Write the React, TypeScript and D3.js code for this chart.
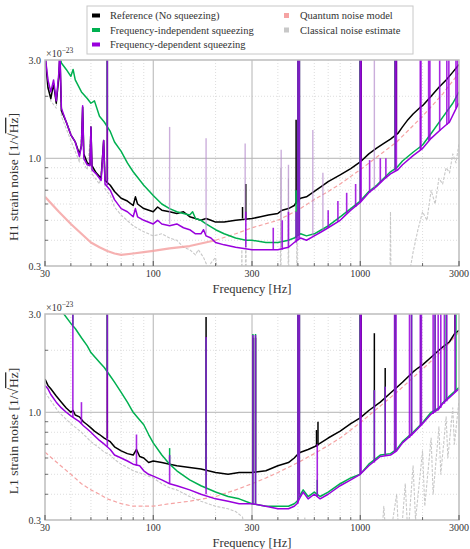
import React from 'react';
import * as d3 from 'd3';

type P = [number, number];
type S = [number, number, number]; // [frequency, base, peak]

// ---------- H1 (top panel) ----------
const H1_REF: P[] = [
  [30, 3.2], [31, 2.2], [32, 1.95], [33, 2.3], [34, 1.85], [35, 2.5], [35.4, 3.2], [36, 1.7], [38, 1.5], [40, 1.3],
  [42, 1.2], [44, 1.05], [45, 1.15], [45.6, 1.77], [46.2, 1.05], [48, 0.95], [49.5, 0.93], [50, 1.42], [50.6, 0.92],
  [53, 0.85], [56, 0.8], [57.6, 1.22], [58.5, 0.78], [62, 0.74], [65, 0.69], [70, 0.64], [75, 0.62], [80, 0.59],
  [82, 0.65], [84, 0.6], [90, 0.57], [100, 0.55], [105, 0.58], [110, 0.56], [120, 0.55], [130, 0.54], [140, 0.55],
  [150, 0.52], [160, 0.51], [170, 0.5], [180, 0.51], [190, 0.5], [200, 0.49], [220, 0.49], [250, 0.5], [300, 0.51],
  [330, 0.52], [360, 0.53], [400, 0.54], [420, 0.56], [450, 0.57], [480, 0.59], [495, 0.62], [515, 0.64], [550, 0.65],
  [600, 0.69], [650, 0.73], [700, 0.77], [800, 0.83], [900, 0.89], [1000, 0.96], [1100, 1.05], [1200, 1.12],
  [1300, 1.18], [1400, 1.24], [1520, 1.32], [1600, 1.42], [1700, 1.54], [1800, 1.64], [1940, 1.76], [2000, 1.8],
  [2200, 2.0], [2400, 2.21], [2600, 2.4], [2800, 2.62], [3000, 2.85],
];
const H1_REF_LINES: S[] = [
  [60, 0.77, 3.5], [270, 0.51, 0.58], [280, 0.51, 0.75], [490, 0.6, 1.54], [500, 0.61, 4], [508, 0.63, 4],
  [1000, 0.96, 4], [1010, 0.97, 4], [1475, 1.29, 4], [1495, 1.31, 4],
];
const H1_FIS: P[] = [
  [35, 3.3], [36, 2.9], [38, 2.7], [40, 2.5], [41, 2.7], [42, 2.4], [45, 2.1], [48, 1.95], [50, 1.85], [52, 1.9],
  [55, 1.6], [58, 1.5], [62, 1.35], [65, 1.2], [70, 1.08], [75, 0.95], [80, 0.86], [90, 0.74], [100, 0.66],
  [110, 0.6], [120, 0.57], [130, 0.55], [140, 0.54], [150, 0.53], [155, 0.55], [160, 0.51], [170, 0.5], [180, 0.48],
  [200, 0.45], [220, 0.43], [250, 0.41], [280, 0.4], [300, 0.4], [350, 0.39], [400, 0.39], [450, 0.4], [480, 0.41],
  [495, 0.42], [515, 0.43], [550, 0.42], [600, 0.43], [650, 0.45], [700, 0.47], [800, 0.52], [900, 0.57], [1000, 0.62],
  [1100, 0.69], [1200, 0.74], [1300, 0.8], [1400, 0.86], [1500, 0.9], [1600, 0.97], [1800, 1.07], [2000, 1.16],
  [2200, 1.32], [2500, 1.58], [2800, 1.85], [3000, 2.1],
];
const H1_FIS_LINES: S[] = [
  [60, 1.45, 3.5], [490, 0.41, 0.7], [500, 0.42, 4], [508, 0.43, 4], [1000, 0.62, 4], [1475, 0.89, 4],
];
const H1_FDS: P[] = [
  [30, 3.2], [31, 2.4], [32, 2.1], [33, 2.4], [34, 1.9], [35, 2.6], [35.4, 3.5], [36, 1.75], [38, 1.5], [40, 1.3],
  [42, 1.2], [44, 1.02], [45, 1.15], [45.6, 1.8], [46.2, 1.0], [48, 0.93], [49.5, 0.92], [50, 1.42], [50.6, 0.88],
  [53, 0.84], [56, 0.78], [57.6, 1.22], [58.5, 0.75], [62, 0.7], [65, 0.63], [70, 0.57], [75, 0.55], [80, 0.52],
  [82, 0.57], [84, 0.52], [90, 0.5], [100, 0.48], [105, 0.5], [110, 0.48], [120, 0.47], [130, 0.48], [140, 0.46],
  [150, 0.45], [160, 0.43], [170, 0.43], [175, 0.45], [180, 0.42], [190, 0.41], [200, 0.39], [220, 0.38], [250, 0.37],
  [300, 0.36], [350, 0.36], [400, 0.36], [450, 0.37], [480, 0.39], [495, 0.4], [515, 0.41], [550, 0.4], [600, 0.42],
  [650, 0.44], [700, 0.46], [800, 0.5], [900, 0.56], [1000, 0.61], [1100, 0.68], [1200, 0.73], [1300, 0.79],
  [1400, 0.84], [1520, 0.88], [1600, 0.93], [1800, 1.03], [1990, 1.11], [2200, 1.25], [2450, 1.38], [2700, 1.5],
  [2950, 1.8], [3000, 1.85],
];
const H1_FDS_LINES: S[] = [
  [60, 0.74, 3.5], [280, 0.37, 0.55], [380, 0.36, 0.46], [420, 0.36, 0.5], [450, 0.37, 0.55], [490, 0.39, 0.55],
  [500, 0.4, 4], [508, 0.41, 4], [700, 0.46, 0.56], [780, 0.49, 0.62], [860, 0.54, 0.68], [950, 0.58, 0.75],
  [1000, 0.61, 4], [1010, 0.62, 4], [1110, 0.68, 0.98], [1250, 0.76, 1.0], [1330, 0.8, 1.0], [1475, 0.87, 4],
  [1495, 0.88, 4], [1950, 1.1, 4], [1965, 1.1, 4], [2140, 1.22, 4], [2170, 1.24, 4], [2420, 1.36, 4],
  [2620, 1.45, 4], [2680, 1.48, 4], [2900, 1.75, 4], [2950, 1.8, 4],
];
const H1_CLASSICAL: P[] = [
  [30, 3.2], [32, 1.9], [34, 1.75], [35.4, 3.0], [36, 1.6], [40, 1.22], [44, 0.96], [45.6, 1.6], [46.2, 0.94],
  [48, 0.88], [50, 1.32], [50.6, 0.84], [55, 0.75], [57.6, 1.1], [58.5, 0.71], [62, 0.66], [65, 0.58],
  [70, 0.53], [80, 0.47], [90, 0.44], [100, 0.42], [110, 0.43], [120, 0.41], [130, 0.4], [140, 0.37], [150, 0.36],
  [160, 0.34], [165, 0.36], [175, 0.33], [185, 0.29], [190, 0.31], [200, 0.33], [205, 0.28], [215, 0.2], [266, 0.2],
  [268, 0.36], [270, 0.2], [278, 0.2], [280, 0.5], [282, 0.2], [411, 0.2], [413, 0.9], [415, 0.2], [448, 0.2],
  [450, 0.8], [452, 0.2], [493, 0.2], [495, 1.1], [497, 0.2], [1390, 0.2], [1400, 0.55], [1410, 0.2],
  [1700, 0.25], [1800, 0.35], [1900, 0.45], [2000, 0.55], [2100, 0.5], [2200, 0.7], [2300, 0.6],
  [2400, 0.8], [2500, 0.75], [2600, 0.9], [2700, 0.85], [2800, 1.05], [2900, 0.95], [3000, 1.18],
];
const H1_QUANTUM: P[] = [
  [30, 0.65], [35, 0.55], [40, 0.48], [45, 0.43], [50, 0.39], [55, 0.37], [60, 0.355], [65, 0.345], [70, 0.34],
  [80, 0.345], [90, 0.35], [100, 0.355], [120, 0.365], [150, 0.375], [200, 0.4], [250, 0.43], [300, 0.46], [400, 0.5],
  [500, 0.56], [600, 0.63], [700, 0.69], [800, 0.75], [1000, 0.88], [1500, 1.2], [2000, 1.6], [2500, 2.05], [3000, 2.6],
];
const H1_FAINT_LINES: S[] = [
  [120, 0.48, 1.42], [180, 0.43, 1.25], [278, 0.5, 1.18], [415, 0.37, 1.1], [450, 0.4, 0.93], [590, 0.42, 1.37],
  [660, 0.45, 0.85], [1170, 0.7, 3.2],
];

// ---------- L1 (bottom panel) ----------
const L1_REF: P[] = [
  [30, 1.45], [31, 1.35], [32, 1.3], [34, 1.2], [36, 1.12], [38, 1.05], [40, 1.0], [41, 1.02], [42, 0.97], [44, 0.95],
  [46, 0.9], [48, 0.87], [50, 0.84], [52, 0.81], [55, 0.78], [58, 0.75], [62, 0.72], [65, 0.68], [70, 0.65],
  [75, 0.63], [80, 0.62], [83, 0.66], [86, 0.61], [90, 0.6], [95, 0.57], [100, 0.58], [110, 0.57], [120, 0.56],
  [130, 0.55], [150, 0.54], [170, 0.53], [200, 0.51], [230, 0.5], [260, 0.51], [300, 0.51], [350, 0.52], [400, 0.55],
  [450, 0.57], [480, 0.6], [495, 0.62], [515, 0.64], [560, 0.66], [600, 0.68], [700, 0.75], [800, 0.81], [900, 0.88],
  [1000, 0.94], [1100, 1.02], [1250, 1.12], [1400, 1.24], [1500, 1.32], [1600, 1.4], [1800, 1.57], [1900, 1.64],
  [2000, 1.7], [2200, 1.85], [2400, 2.0], [2500, 2.07], [2700, 2.2], [2850, 2.4], [3000, 2.5],
];
const L1_REF_LINES: S[] = [
  [60, 0.75, 3.5], [180, 0.52, 2.9], [303, 0.51, 2.3], [312, 0.51, 2.3], [500, 0.62, 4], [508, 0.64, 4],
  [615, 0.68, 0.82], [625, 0.69, 0.9], [1000, 0.94, 4], [1010, 0.95, 4], [1170, 1.05, 2.42], [1320, 1.16, 1.64],
  [1475, 1.3, 4], [2870, 2.4, 3.2],
];
const L1_FIS: P[] = [
  [36, 3.2], [37, 3.0], [40, 2.7], [42, 2.55], [45, 2.3], [48, 2.1], [50, 1.95], [55, 1.75], [58, 1.65], [62, 1.5],
  [65, 1.4], [70, 1.25], [75, 1.12], [80, 1.0], [85, 0.93], [90, 0.87], [95, 0.78], [100, 0.71], [110, 0.62],
  [120, 0.56], [130, 0.52], [150, 0.47], [170, 0.44], [200, 0.41], [230, 0.39], [260, 0.38], [300, 0.36], [350, 0.35],
  [400, 0.35], [450, 0.35], [480, 0.36], [495, 0.37], [515, 0.4], [530, 0.42], [560, 0.39], [600, 0.41], [640, 0.39],
  [700, 0.41], [800, 0.45], [900, 0.48], [1000, 0.5], [1100, 0.56], [1250, 0.62], [1400, 0.63], [1500, 0.66],
  [1600, 0.72], [1800, 0.8], [2000, 0.89], [2200, 1.0], [2400, 1.05], [2500, 1.11], [2700, 1.2], [3000, 1.32],
];
const L1_FIS_LINES: S[] = [
  [40.9, 2.65, 3.5], [60, 1.6, 3.5], [120, 0.56, 0.67], [180, 0.43, 2.3], [303, 0.36, 2.4], [312, 0.36, 2.4],
  [500, 0.37, 4], [508, 0.4, 4], [620, 0.39, 0.47], [1000, 0.5, 4], [1170, 0.58, 1.28], [1320, 0.63, 1.33],
  [1475, 0.65, 4], [1770, 0.78, 4], [1960, 0.87, 4], [2300, 1.02, 4], [2600, 1.15, 4], [2900, 1.28, 4],
];
const L1_FDS: P[] = [
  [30, 1.35], [31, 1.3], [32, 1.22], [34, 1.12], [36, 1.05], [38, 1.0], [40, 0.96], [42, 0.93], [44, 0.9], [46, 0.86],
  [48, 0.83], [50, 0.8], [52, 0.77], [55, 0.73], [58, 0.7], [62, 0.66], [65, 0.62], [70, 0.6], [75, 0.58], [80, 0.56],
  [86, 0.55], [90, 0.52], [95, 0.5], [100, 0.49], [110, 0.47], [120, 0.45], [130, 0.44], [150, 0.42], [170, 0.4],
  [200, 0.38], [230, 0.37], [260, 0.36], [300, 0.36], [350, 0.35], [400, 0.34], [450, 0.34], [480, 0.35], [495, 0.36],
  [515, 0.39], [530, 0.41], [560, 0.38], [600, 0.4], [640, 0.38], [700, 0.4], [800, 0.44], [900, 0.47], [1000, 0.5],
  [1100, 0.55], [1250, 0.61], [1400, 0.62], [1500, 0.65], [1600, 0.71], [1800, 0.79], [2000, 0.88], [2200, 0.98],
  [2400, 1.04], [2500, 1.1], [2700, 1.18], [3000, 1.3],
];
const L1_FDS_LINES: S[] = [
  [40.9, 0.95, 3.5], [45, 0.88, 1.12], [60, 0.68, 3.5], [83, 0.55, 0.78], [120, 0.45, 0.62], [180, 0.4, 2.32],
  [303, 0.36, 2.37], [312, 0.36, 2.37], [500, 0.36, 4], [508, 0.39, 4], [620, 0.39, 0.7], [1000, 0.5, 4],
  [1010, 0.51, 4], [1170, 0.57, 1.28], [1320, 0.62, 1.33], [1465, 0.64, 4], [1490, 0.65, 4], [1730, 0.75, 4],
  [1770, 0.77, 4], [1950, 0.86, 4], [1975, 0.87, 4], [2250, 0.98, 4], [2300, 1.0, 4], [2380, 1.02, 4],
  [2450, 1.05, 4], [2550, 1.1, 4], [2620, 1.13, 4], [2870, 1.25, 4],
];
const L1_CLASSICAL: P[] = [
  [30, 1.25], [35, 1.0], [40, 0.88], [45, 0.8], [50, 0.72], [55, 0.67], [58, 0.64], [62, 0.62], [65, 0.59],
  [70, 0.56], [75, 0.54], [80, 0.52], [90, 0.5], [100, 0.48], [110, 0.45], [120, 0.43], [130, 0.42], [150, 0.39],
  [170, 0.37], [200, 0.35], [230, 0.34], [250, 0.33], [270, 0.31], [290, 0.2], [530, 0.2], [540, 0.31], [550, 0.2],
  [1150, 0.2], [1200, 0.3], [1250, 0.2], [1300, 0.35], [1350, 0.2], [1500, 0.4], [1550, 0.2], [1650, 0.45],
  [1700, 0.25], [1800, 0.55], [1850, 0.3], [2000, 0.65], [2050, 0.35], [2200, 0.75], [2250, 0.4], [2400, 0.85],
  [2450, 0.5], [2600, 0.95], [2650, 0.6], [2800, 1.05], [2850, 0.7], [3000, 1.14],
];
const L1_QUANTUM: P[] = [
  [30, 0.64], [35, 0.56], [40, 0.5], [45, 0.45], [50, 0.42], [55, 0.4], [60, 0.38], [70, 0.36], [80, 0.35], [90, 0.35],
  [100, 0.35], [120, 0.36], [150, 0.37], [200, 0.39], [250, 0.42], [300, 0.45], [350, 0.48], [400, 0.51], [500, 0.57],
  [600, 0.63], [700, 0.69], [800, 0.75], [1000, 0.89], [1500, 1.25], [2000, 1.62], [2500, 2.0], [3000, 2.45],
];
const L1_FAINT_LINES: S[] = [];

// ---------- axes ----------
const X_TICKS = [30, 100, 300, 1000, 3000];
const X_TICK_LABELS = ['30', '100', '300', '1000', '3000'];
const X_MAJOR_GRID = [100, 300, 1000];
const X_MINOR = [40, 50, 60, 70, 80, 90, 200, 400, 500, 600, 700, 800, 900, 2000];
const Y_TICKS = [0.3, 1.0, 3.0];
const Y_TICK_LABELS = ['0.3', '1.0', '3.0'];
const Y_MAJOR_GRID = [1.0];
const Y_MINOR = [0.4, 0.5, 0.6, 0.7, 0.8, 0.9, 2.0];

const LEGEND_LEFT = ['Reference (No squeezing)', 'Frequency-independent squeezing', 'Frequency-dependent squeezing'];
const LEGEND_RIGHT = ['Quantum noise model', 'Classical noise estimate'];

const C_BLACK = '#000000';
const C_GREEN = '#00b050';
const C_PURPLE = '#9900dd';
const C_PINK = '#f5a3a3';
const C_GRAY = '#c8c8c8';
const C_TEXT = '#333';
const FONT = "'Liberation Serif', 'Times New Roman', serif";

const L = 45, R = 459, PH = 206;

interface PanelProps {
  id: string; top: number; det: string;
  gray: P[]; pink: P[]; pinkSolid: boolean;
  black: P[]; blackLines: S[]; green: P[]; greenLines: S[]; purple: P[]; purpleLines: S[]; faint: S[];
}

function Panel(p: PanelProps) {
  const { id, top, det } = p;
  const x = d3.scaleLog().domain([30, 3000]).range([L, R]);
  const y = d3.scaleLog().domain([0.3, 3.0]).range([top + PH, top]);
  const line = d3.line<P>().x(d => x(d[0])).y(d => y(d[1]));
  const bottom = top + PH;
  const pinkA = p.pinkSolid ? p.pink.filter(d => d[0] <= 220) : [];
  const pinkB = p.pinkSolid ? p.pink.filter(d => d[0] >= 200) : p.pink;
  const spikes = (arr: S[], color: string, key: string, w = 1.5, op = 1) =>
    arr.map((s, i) => (
      <line key={key + i} x1={x(s[0])} x2={x(s[0])} y1={y(s[1])} y2={y(s[2])} stroke={color} strokeWidth={w} opacity={op} />
    ));
  const txt = { fontFamily: FONT, fill: C_TEXT };
  return (
    <g>
      <defs>
        <clipPath id={id}>
          <rect x={L} y={top} width={R - L} height={PH} />
        </clipPath>
      </defs>
      {X_MINOR.map(f => (
        <line key={'xm' + f} x1={x(f)} x2={x(f)} y1={top} y2={bottom} stroke="#d4d4d4" strokeWidth={0.8} strokeDasharray="1,2" />
      ))}
      {Y_MINOR.map(v => (
        <line key={'ym' + v} x1={L} x2={R} y1={y(v)} y2={y(v)} stroke="#d4d4d4" strokeWidth={0.8} strokeDasharray="1,2" />
      ))}
      {X_MAJOR_GRID.map(f => (
        <line key={'xg' + f} x1={x(f)} x2={x(f)} y1={top} y2={bottom} stroke="#b4b4b4" strokeWidth={1} />
      ))}
      {Y_MAJOR_GRID.map(v => (
        <line key={'yg' + v} x1={L} x2={R} y1={y(v)} y2={y(v)} stroke="#b4b4b4" strokeWidth={1} />
      ))}
      <g clipPath={`url(#${id})`} fill="none" strokeLinejoin="round">
        <path d={line(p.gray) || ''} stroke={C_GRAY} strokeWidth={1.1} strokeDasharray="3,1.5" />
        {pinkA.length > 0 && <path d={line(pinkA) || ''} stroke={C_PINK} strokeWidth={2.2} opacity={0.85} />}
        <path d={line(pinkB) || ''} stroke={C_PINK} strokeWidth={1.2} strokeDasharray="4,2.5" />
        <path d={line(p.black) || ''} stroke={C_BLACK} strokeWidth={1.5} />
        {spikes(p.blackLines, C_BLACK, 'bl')}
        <path d={line(p.green) || ''} stroke={C_GREEN} strokeWidth={1.5} />
        {spikes(p.greenLines, C_GREEN, 'gl')}
        {spikes(p.faint, '#b58ccc', 'fl', 1.4, 0.7)}
        <path d={line(p.purple) || ''} stroke={C_PURPLE} strokeWidth={1.5} />
        {spikes(p.purpleLines, C_PURPLE, 'pl', 1.6, 0.85)}
      </g>
      <rect x={L} y={top} width={R - L} height={PH} fill="none" stroke="#bdbdbd" strokeWidth={1.5} />
      {X_MINOR.map(f => (
        <line key={'xt' + f} x1={x(f)} x2={x(f)} y1={bottom} y2={bottom - 3} stroke="#333" strokeWidth={0.7} />
      ))}
      {X_TICKS.map(f => (
        <line key={'xT' + f} x1={x(f)} x2={x(f)} y1={bottom} y2={bottom - 5} stroke="#333" strokeWidth={0.8} />
      ))}
      {Y_MINOR.map(v => (
        <line key={'yt' + v} x1={L} x2={L + 3} y1={y(v)} y2={y(v)} stroke="#333" strokeWidth={0.7} />
      ))}
      {X_TICKS.map((f, i) => (
        <text key={'xl' + f} x={x(f)} y={bottom + 11} textAnchor="middle" fontSize={10} {...txt}>
          {X_TICK_LABELS[i]}
        </text>
      ))}
      {Y_TICKS.map((v, i) => (
        <text key={'yl' + v} x={L - 4} y={y(v) + 3.5} textAnchor="end" fontSize={10} {...txt}>
          {Y_TICK_LABELS[i]}
        </text>
      ))}
      <text x={L + 1} y={top - 3} fontSize={10} {...txt}>
        ×10<tspan fontSize={7.5} dy={-4.5}>−23</tspan>
      </text>
      <text x={(L + R) / 2} y={bottom + 27} textAnchor="middle" fontSize={12.5} {...txt}>
        Frequency [Hz]
      </text>
      <text transform={`translate(18,${top + PH / 2 + 14}) rotate(-90)`} textAnchor="middle" fontSize={13.5} {...txt}>
        {det} strain noise [1/√<tspan style={{ textDecoration: 'overline' }}>Hz</tspan>]
      </text>
    </g>
  );
}

function Legend() {
  const colorsL = [C_BLACK, C_GREEN, C_PURPLE];
  const colorsR = [C_PINK, C_GRAY];
  const rows = [15.5, 30, 44.5];
  return (
    <g>
      <rect x={87} y={6} width={326} height={48} fill="#fff" stroke="#c8c8c8" strokeWidth={1} />
      {LEGEND_LEFT.map((t, i) => (
        <g key={t}>
          <rect x={92} y={rows[i] - 2} width={8} height={4} fill={colorsL[i]} />
          <text x={110} y={rows[i] + 3.5} fontFamily={FONT} fontSize={10.5} fill={C_TEXT}>{t}</text>
        </g>
      ))}
      {LEGEND_RIGHT.map((t, i) => (
        <g key={t}>
          <rect x={284} y={rows[i] - 2.5} width={5} height={5} fill={colorsR[i]} />
          <text x={300} y={rows[i] + 3.5} fontFamily={FONT} fontSize={10.5} fill={C_TEXT}>{t}</text>
        </g>
      ))}
    </g>
  );
}

export default function App() {
  return (
    <svg width={470} height={549} style={{ position: 'absolute', left: 0, top: 0, background: '#fff' }}>
      <rect x={0} y={0} width={470} height={549} fill="#fff" />
      <Panel id="clipH1" top={60} det="H1" gray={H1_CLASSICAL} pink={H1_QUANTUM} pinkSolid={true}
        black={H1_REF} blackLines={H1_REF_LINES} green={H1_FIS} greenLines={H1_FIS_LINES}
        purple={H1_FDS} purpleLines={H1_FDS_LINES} faint={H1_FAINT_LINES} />
      <Panel id="clipL1" top={314} det="L1" gray={L1_CLASSICAL} pink={L1_QUANTUM} pinkSolid={false}
        black={L1_REF} blackLines={L1_REF_LINES} green={L1_FIS} greenLines={L1_FIS_LINES}
        purple={L1_FDS} purpleLines={L1_FDS_LINES} faint={L1_FAINT_LINES} />
      <Legend />
    </svg>
  );
}
